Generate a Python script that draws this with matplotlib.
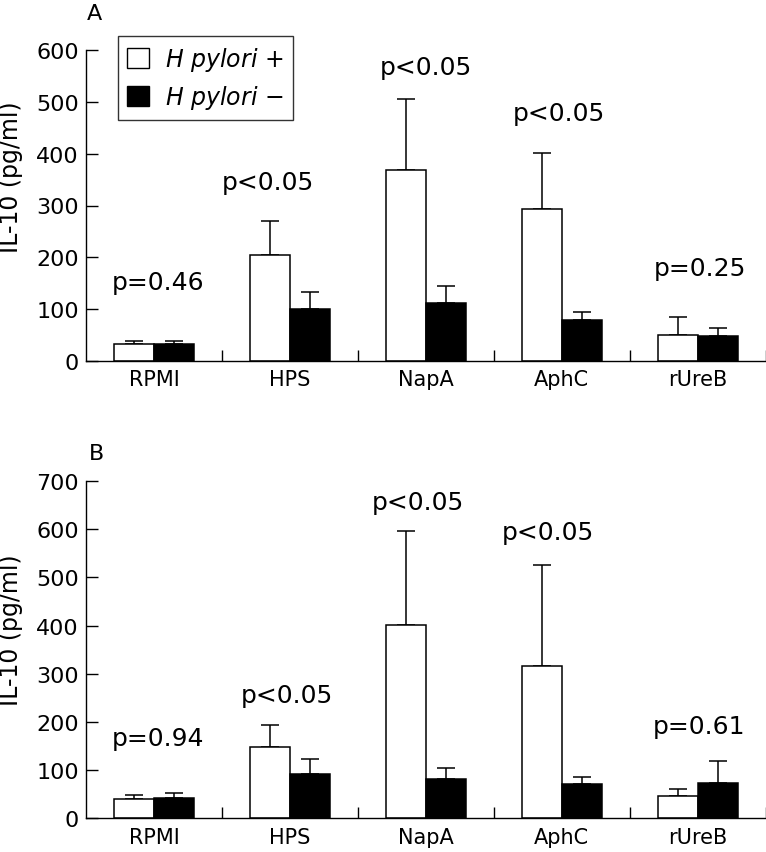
import matplotlib
matplotlib.use('Agg')
import matplotlib.pyplot as plt
from matplotlib.patches import Patch
import numpy as np

plt.rcParams['font.family'] = ['DejaVu Sans']
plt.rcParams['mathtext.fontset'] = 'dejavusans'

categories = ['RPMI', 'HPS', 'NapA', 'AphC', 'rUreB']

# panel A
a_pos = [33, 205, 369, 294, 51]
a_pos_err = [6, 66, 137, 108, 33]
a_neg = [33, 101, 111, 79, 49]
a_neg_err = [6, 32, 33, 16, 15]
a_pvals = ['p=0.46', 'p<0.05', 'p<0.05', 'p<0.05', 'p=0.25']
a_ptext_y = [139, 332, 554, 464, 166]
a_ptext_dx = [0.03, -0.16, 0.0, -0.02, 0.02]

# panel B
b_pos = [40, 147, 402, 317, 46]
b_pos_err = [8, 47, 194, 209, 14]
b_neg = [42, 91, 82, 72, 73]
b_neg_err = [10, 33, 22, 14, 45]
b_pvals = ['p=0.94', 'p<0.05', 'p<0.05', 'p<0.05', 'p=0.61']
b_ptext_y = [152, 241, 642, 580, 178]
b_ptext_dx = [0.03, -0.02, -0.06, -0.10, 0.01]

W, H = 766, 853
fig = plt.figure(figsize=(W / 100, H / 100), dpi=100)


def px_axes(left, right, top, bottom):
    return fig.add_axes([left / W, 1 - bottom / H, (right - left) / W, (bottom - top) / H])


def draw_panel(ax, pos, pos_err, neg, neg_err, pvals, ty, tdx, ymax, label_y):
    x = np.arange(len(categories)) + 0.5
    bw = 0.294
    ax.bar(x - bw / 2, pos, bw, facecolor='white', edgecolor='black', linewidth=1.1, zorder=2)
    ax.bar(x + bw / 2, neg, bw, facecolor='black', edgecolor='black', linewidth=1.1, zorder=2)
    z = np.zeros(len(pos))
    ax.errorbar(x - bw / 2, pos, yerr=[z, pos_err], fmt='none', ecolor='black',
                elinewidth=1.1, capsize=6.5, capthick=1.1, zorder=1)
    ax.errorbar(x + bw / 2, neg, yerr=[z, neg_err], fmt='none', ecolor='black',
                elinewidth=1.1, capsize=6.5, capthick=1.1, zorder=1)
    for i, t in enumerate(pvals):
        ax.text(x[i] + tdx[i], ty[i], t, ha='center', va='baseline', fontsize=18)

    ax.set_xlim(0, 5)
    ax.set_ylim(0, ymax)
    ax.set_yticks(np.arange(0, ymax + 1, 100))
    ax.set_xticks(x)
    ax.set_xticklabels(categories, fontsize=15)
    ax.set_xticks(np.arange(1, 6), minor=True)
    ax.tick_params(axis='x', which='major', length=0, pad=6)
    ax.tick_params(axis='x', which='minor', direction='in', length=8, width=1)
    ax.tick_params(axis='y', direction='in', length=8.5, width=1, labelsize=16, pad=5)
    for s in ['top', 'right']:
        ax.spines[s].set_visible(False)
    for s in ['left', 'bottom']:
        ax.spines[s].set_linewidth(1)
    ax.set_ylabel('IL-10 (pg/ml)', fontsize=17)
    ax.yaxis.set_label_coords(-0.092, label_y)


axA = px_axes(86, 765.5, 51, 362)
draw_panel(axA, a_pos, a_pos_err, a_neg, a_neg_err, a_pvals, a_ptext_y, a_ptext_dx, 600, 0.595)

axB = px_axes(86, 765.5, 482, 819.3)
draw_panel(axB, b_pos, b_pos_err, b_neg, b_neg_err, b_pvals, b_ptext_y, b_ptext_dx, 700, 0.56)

handles = [Patch(facecolor='white', edgecolor='black', linewidth=1),
           Patch(facecolor='black', edgecolor='black', linewidth=1)]
leg = axA.legend(handles, [r'$\mathit{H\ pylori}$ +', r'$\mathit{H\ pylori}$ −'],
                 loc='upper left', bbox_to_anchor=(0.047, 1.045), borderaxespad=0,
                 fontsize=17, frameon=True, fancybox=False, handlelength=0.93,
                 handleheight=0.93, handletextpad=0.65, labelspacing=0.4, borderpad=0.4)
leg.get_frame().set_edgecolor('black')
leg.get_frame().set_linewidth(1)

fig.text(87 / W, 1 - 20 / H, 'A', fontsize=16, ha='left', va='baseline')
fig.text(89 / W, 1 - 460 / H, 'B', fontsize=16, ha='left', va='baseline')

fig.savefig('out.png', dpi=100)
plt.close(fig)
